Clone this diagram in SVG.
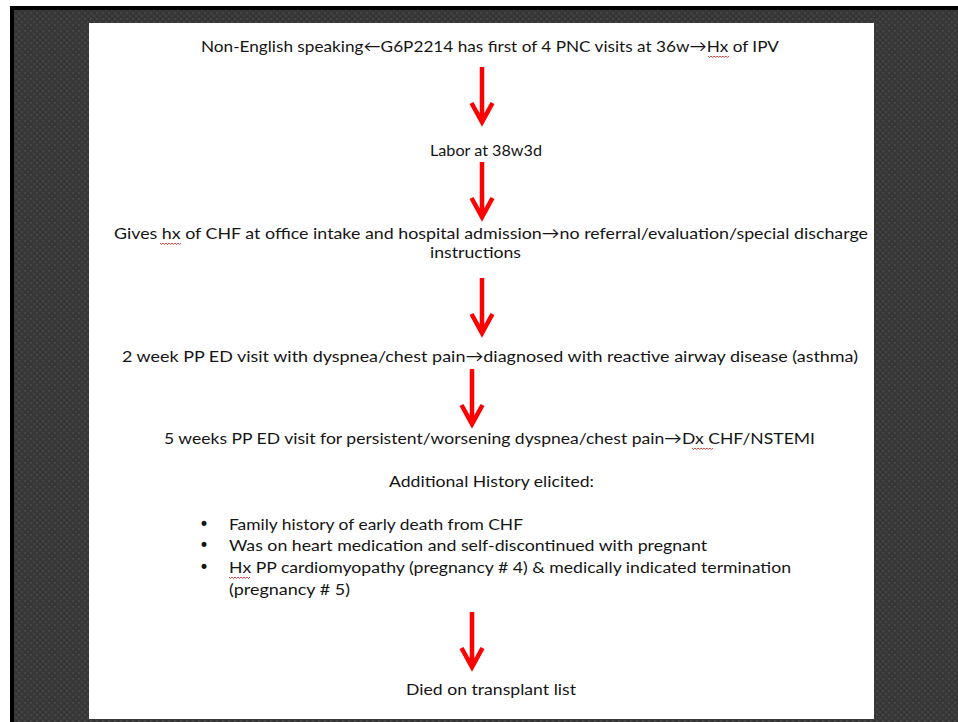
<svg xmlns="http://www.w3.org/2000/svg" width="958" height="722" viewBox="0 0 958 722">
  <defs>
    <pattern id="tex" width="6" height="6" patternUnits="userSpaceOnUse">
      <rect width="6" height="6" fill="#383838"/>
      <rect x="0" y="0" width="2" height="2" fill="#454545"/>
      <rect x="3" y="3" width="2" height="2" fill="#424242"/>
      <rect x="4" y="1" width="1" height="1" fill="#2e2e2e"/>
      <rect x="1" y="4" width="1" height="1" fill="#2f2f2f"/>
    </pattern>
    <path id="arrow" d="M0,0 V54 M-10.5,36 L0,55 L10.5,36" fill="none"/>
    <path id="squig" d="M0,0 l1.5,1.5 l1.5,-1.5 l1.5,1.5 l1.5,-1.5 l1.5,1.5 l1.5,-1.5 l1.5,1.5 l1.5,-1.5 l1.5,1.5 l1.5,-1.5 l1.5,1.5 l1.5,-1.5 l1.5,1.5 l1.5,-1.5" fill="none"/>
  </defs>
  <style>
    .t { font-family: Lato, "Liberation Sans", sans-serif; font-size: 16px; fill: #151515; }
    .b { font-family: "DejaVu Sans", sans-serif; font-size: 17px; fill: #151515; }
    .arr { stroke: #ff0000; stroke-width: 4.5; stroke-linejoin: miter; stroke-linecap: butt; fill: none; }
    .sq { stroke: #e23030; stroke-width: 0.9; fill: none; }
  </style>

  <rect x="0" y="0" width="958" height="722" fill="#ffffff"/>
  <rect x="10" y="6" width="948" height="716" fill="#000000"/>
  <rect x="14" y="10" width="944" height="712" fill="url(#tex)"/>
  <rect x="89" y="23" width="785" height="696" fill="#ffffff"/>

  <g id="connectors">
    <use href="#arrow" class="arr" x="482" y="67"/>
    <use href="#arrow" class="arr" x="482" y="162"/>
    <use href="#arrow" class="arr" x="482" y="278"/>
    <use href="#arrow" class="arr" x="472" y="369"/>
    <use href="#arrow" class="arr" x="472" y="612"/>
  </g>

  <g id="node1">
    <text class="t" x="201" y="52" textLength="578" lengthAdjust="spacingAndGlyphs">Non-English speaking←G6P2214 has first of 4 PNC visits at 36w→Hx of IPV</text>
    <use href="#squig" class="sq" x="708" y="56"/>
  </g>
  <g id="node2">
    <text class="t" x="430" y="156" textLength="112" lengthAdjust="spacingAndGlyphs">Labor at 38w3d</text>
  </g>
  <g id="node3">
    <text class="t" x="114" y="239" textLength="754" lengthAdjust="spacingAndGlyphs">Gives hx of CHF at office intake and hospital admission→no referral/evaluation/special discharge</text>
    <text class="t" x="430" y="258" textLength="91" lengthAdjust="spacingAndGlyphs">instructions</text>
    <use href="#squig" class="sq" x="160" y="243"/>
  </g>
  <g id="node4">
    <text class="t" x="122" y="362" textLength="736" lengthAdjust="spacingAndGlyphs">2 week PP ED visit with dyspnea/chest pain→diagnosed with reactive airway disease (asthma)</text>
  </g>
  <g id="node5">
    <text class="t" x="164" y="444" textLength="651" lengthAdjust="spacingAndGlyphs">5 weeks PP ED visit for persistent/worsening dyspnea/chest pain→Dx CHF/NSTEMI</text>
    <use href="#squig" class="sq" x="692" y="448"/>
    <text class="t" x="389" y="487" textLength="205" lengthAdjust="spacingAndGlyphs">Additional History elicited:</text>
    <text class="b" x="199" y="530">•</text>
    <text class="t" x="229" y="530" textLength="294" lengthAdjust="spacingAndGlyphs">Family history of early death from CHF</text>
    <text class="b" x="199" y="551">•</text>
    <text class="t" x="229" y="551" textLength="478" lengthAdjust="spacingAndGlyphs">Was on heart medication and self-discontinued with pregnant</text>
    <text class="b" x="199" y="573">•</text>
    <text class="t" x="229" y="573" textLength="562" lengthAdjust="spacingAndGlyphs">Hx PP cardiomyopathy (pregnancy # 4) &amp; medically indicated termination</text>
    <use href="#squig" class="sq" x="229" y="577"/>
    <text class="t" x="229" y="595" textLength="121" lengthAdjust="spacingAndGlyphs">(pregnancy # 5)</text>
  </g>
  <g id="node6">
    <text class="t" x="406" y="695" textLength="170" lengthAdjust="spacingAndGlyphs">Died on transplant list</text>
  </g>
</svg>
